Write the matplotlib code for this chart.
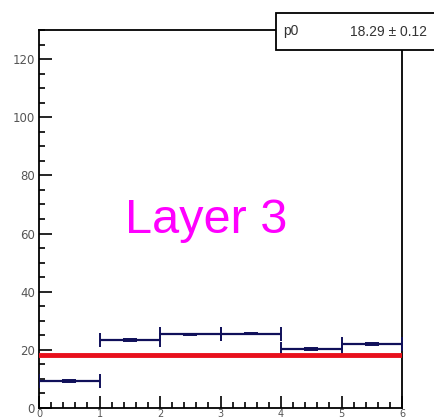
import matplotlib.pyplot as plt
import numpy as np
from matplotlib.patches import Rectangle
from matplotlib.ticker import MultipleLocator

# bin layout and contents
bin_edges = [0, 1, 2, 3, 4, 5, 6]
counts = [9.3, 23.4, 25.3, 25.6, 20.4, 22.1]
count_err = [0.3, 0.3, 0.3, 0.3, 0.3, 0.3]

# constant fit
p0 = 18.29
p0_err = 0.12

centers = [(a + b) / 2 for a, b in zip(bin_edges[:-1], bin_edges[1:])]
half_w = [(b - a) / 2 for a, b in zip(bin_edges[:-1], bin_edges[1:])]

fig = plt.figure(figsize=(4.34, 4.20), dpi=100)
ax = fig.add_axes([0.0899, 0.0286, 0.8364, 0.9])

navy = "#10105a"
ax.errorbar(centers, counts, xerr=half_w, yerr=count_err, fmt="none",
            ecolor=navy, elinewidth=1.6, capsize=5, capthick=1.4, zorder=3)
ax.plot([bin_edges[0], bin_edges[-1]], [p0, p0], color="#e8101c", lw=3.5, zorder=4)

ax.text(1.42, 64.5, "Layer 3", color="#ff00ff", fontsize=35,
        family=["Liberation Sans", "DejaVu Sans"], va="center", ha="left")

ax.set_xlim(0, 6)
ax.set_ylim(0, 130)
ax.xaxis.set_major_locator(MultipleLocator(1))
ax.xaxis.set_minor_locator(MultipleLocator(0.2))
ax.yaxis.set_major_locator(MultipleLocator(20))
ax.yaxis.set_minor_locator(MultipleLocator(5))
ax.tick_params(which="both", direction="in", top=False, right=False,
               labelsize=8.5, labelcolor="#555555", width=1.2)
ax.tick_params(which="major", length=9)
ax.tick_params(which="minor", length=4.5)
ax.tick_params(axis="y", pad=3)
ax.tick_params(axis="x", pad=0.5, labelsize=7)
for s in ax.spines.values():
    s.set_linewidth(1.3)

# fit stats box
fig.patches.append(Rectangle((0.636, 0.881), 0.40, 0.088, transform=fig.transFigure,
                             facecolor="white", edgecolor="black", lw=1.3,
                             clip_on=False, zorder=10))
fig.text(0.652, 0.925, "p0", fontsize=10, color="#333333", va="center", ha="left",
         family=["Liberation Sans", "DejaVu Sans"], zorder=11)
fig.text(0.985, 0.925, f"{p0:.2f} \u00b1 {p0_err:.2f}", fontsize=10, color="#333333",
         va="center", ha="right", family=["Liberation Sans", "DejaVu Sans"], zorder=11)

fig.savefig("out.png", dpi=100)
